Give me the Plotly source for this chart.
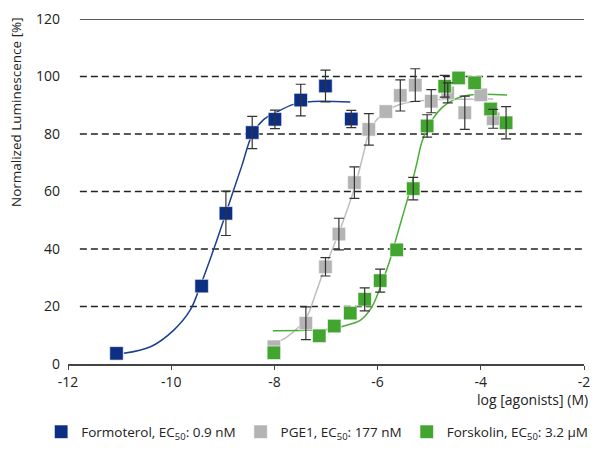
import plotly.graph_objects as go

# measured points (log M, % luminescence, +/- error)
formoterol_x = [-11.06, -9.41, -8.94, -8.43, -7.99, -7.49, -7.01, -6.51]
formoterol_y = [3.7, 27.1, 52.4, 80.5, 85.1, 91.8, 96.7, 85.2]
formoterol_err = [0, 0, 7.7, 5.6, 3.2, 5.5, 5.5, 3.0]

pge1_x = [-8.01, -7.39, -7.01, -6.75, -6.45, -6.17, -5.84, -5.56, -5.27, -4.96, -4.64, -4.31, -4.00, -3.76]
pge1_y = [6.0, 14.2, 33.8, 45.2, 63.1, 81.6, 87.8, 93.4, 97.0, 91.4, 94.3, 87.4, 93.6, 85.3]
pge1_err = [0, 5.7, 3.2, 5.5, 5.5, 5.5, 0, 5.4, 5.7, 4.0, 3.5, 5.8, 0, 3.3]

forskolin_x = [-8.01, -7.13, -6.84, -6.53, -6.25, -5.95, -5.63, -5.31, -5.04, -4.70, -4.43, -4.12, -3.81, -3.51]
forskolin_y = [3.9, 9.8, 13.2, 17.7, 22.5, 29.0, 39.7, 61.0, 82.8, 96.6, 99.5, 97.8, 88.7, 83.9]
forskolin_err = [0, 0, 0, 0, 4.0, 4.0, 0, 3.9, 3.9, 3.8, 0, 0, 0, 5.6]

# fitted curves
formoterol_fit_x = [-10.92, -10.40, -9.95, -9.63, -9.45, -9.18, -8.94, -8.80, -8.63, -8.43, -8.21, -7.99, -7.63, -7.25, -6.53]
formoterol_fit_y = [3.7, 6.0, 11.8, 18.8, 26.5, 39.7, 52.4, 60.0, 69.0, 79.8, 85.0, 87.3, 90.3, 91.3, 91.1]

pge1_fit_x = [-8.03, -7.75, -7.55, -7.37, -7.20, -7.05, -6.73, -6.44, -6.28, -6.15, -5.99, -5.82, -5.50, -5.20, -4.80, -3.76]
pge1_fit_y = [6.6, 9.5, 12.5, 16.5, 24.5, 32.1, 46.6, 61.7, 72.7, 81.4, 85.5, 88.3, 90.6, 91.5, 92.0, 92.2]

forskolin_fit_x = [-8.03, -7.40, -6.90, -6.60, -6.33, -6.11, -5.92, -5.76, -5.63, -5.50, -5.37, -5.24, -5.15, -5.05, -4.92, -4.73, -4.47, -4.21, -3.49]
forskolin_fit_y = [11.6, 11.7, 12.2, 13.5, 15.3, 19.9, 28.1, 36.2, 44.3, 52.4, 60.5, 69.8, 76.8, 81.4, 85.5, 89.5, 92.4, 93.6, 93.6]

y_ticks = [0, 20, 40, 60, 80, 100, 120]
x_ticks = [-12, -10, -8, -6, -4, -2]
x_tick_labels = ["-12", "-10", "-8", "-6", "-4", "-2"]

series = [
    ("Formoterol, EC<sub>50</sub>: 0.9 nM", "#0c2f84", "#1c3f93",
     formoterol_x, formoterol_y, formoterol_err, formoterol_fit_x, formoterol_fit_y),
    ("PGE1, EC<sub>50</sub>: 177 nM", "#b4b4b4", "#bdbdbd",
     pge1_x, pge1_y, pge1_err, pge1_fit_x, pge1_fit_y),
    ("Forskolin, EC<sub>50</sub>: 3.2 µM", "#42a52f", "#4aad37",
     forskolin_x, forskolin_y, forskolin_err, forskolin_fit_x, forskolin_fit_y),
]

fig = go.Figure()

for name, col, line_col, x, y, err, fx, fy in series:
    fig.add_trace(go.Scatter(x=fx, y=fy, mode="lines", line=dict(color=line_col, width=1.5, shape="spline"),
                             showlegend=False, hoverinfo="skip"))

for name, col, line_col, x, y, err, fx, fy in series:
    fig.add_trace(go.Scatter(x=x, y=y, mode="markers", name=name,
                             marker=dict(symbol="square", size=13.5, color=col,
                                         line=dict(color="rgba(255,255,255,0.6)", width=1))))

# error bars on top of the markers
for name, col, line_col, x, y, err, fx, fy in series:
    keep = [i for i, e in enumerate(err) if e > 0]
    fig.add_trace(go.Scatter(x=[x[i] for i in keep], y=[y[i] for i in keep], mode="markers",
                             marker=dict(opacity=0), showlegend=False, hoverinfo="skip",
                             error_y=dict(type="data", array=[err[i] for i in keep], visible=True,
                                          color="#333333", thickness=1.2, width=5)))

# horizontal reference lines
for v in y_ticks[1:]:
    fig.add_shape(type="line", xref="paper", yref="y", x0=0.023, x1=1.0, y0=v, y1=v,
                  line=dict(color="#222222", width=1.5, dash="solid" if v == 120 else "7px,4px"),
                  layer="below")

# page body has an 8px margin all round, so keep the figure inside the window
fig.update_layout(
    width=584, height=434,
    margin=dict(l=60, r=8, t=11, b=78, autoexpand=False),
    paper_bgcolor="white", plot_bgcolor="white",
    font=dict(family="Open Sans", size=13, color="#222222"),
    showlegend=True,
    legend=dict(orientation="h", x=-0.052, xanchor="left", y=-0.197, yanchor="middle",
                font=dict(size=13.5), itemwidth=30, tracegroupgap=0),
    xaxis=dict(range=[-12, -2], tickvals=x_ticks, ticktext=x_tick_labels, ticks="outside", ticklen=4,
               tickcolor="#444444", showline=True, linecolor="#444444", linewidth=2, showgrid=False,
               zeroline=False, tickfont=dict(size=14), automargin=False),
    yaxis=dict(range=[0, 120], tickvals=y_ticks, showline=False, showgrid=False, zeroline=False,
               ticks="", tickfont=dict(size=14), ticklabelstandoff=7, automargin=False),
    annotations=[
        dict(text="log [agonists] (M)", xref="paper", yref="paper", x=1.012, y=-0.104,
             xanchor="right", yanchor="middle", showarrow=False, font=dict(size=14)),
        dict(text="Normalized Luminescence [%]", xref="paper", yref="paper", x=-0.101, y=0.73,
             xanchor="center", yanchor="middle", textangle=-90, showarrow=False, font=dict(size=13.5)),
    ],
)

fig.write_html("out.html")
